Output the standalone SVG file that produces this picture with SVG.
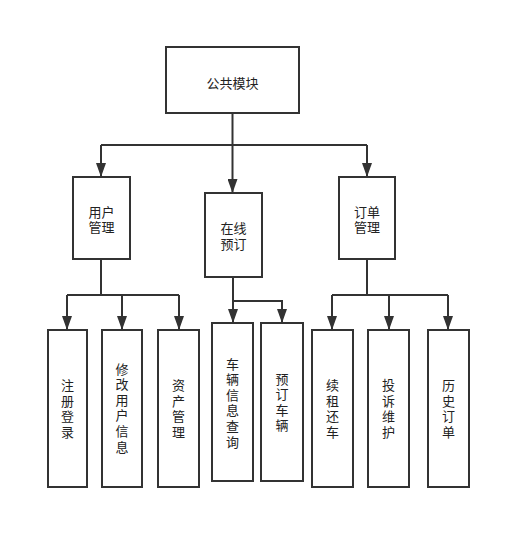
<svg xmlns="http://www.w3.org/2000/svg" width="530" height="548" viewBox="0 0 530 548" lang="zh-CN">
<style>
.box{fill:#fff;stroke:#333;stroke-width:2}
.ln{fill:none;stroke:#333;stroke-width:2}
.t{font-family:"Liberation Sans","Noto Sans CJK SC",sans-serif;font-size:13px;fill:#222;text-anchor:middle;dominant-baseline:central}
</style>
<defs>
<marker id="arr" viewBox="0 0 14 10" refX="14" refY="5" markerWidth="14" markerHeight="10" markerUnits="userSpaceOnUse" orient="auto">
<path d="M0,0 L14,5 L0,10 z" fill="#333"/>
</marker>
</defs>
<rect width="530" height="548" fill="#fff"/>
<g id="connectors">
<path class="ln" d="M232.5,113 V145"/>
<path class="ln" d="M101,145 H367"/>
<path class="ln" d="M101,145 V177" marker-end="url(#arr)"/>
<path class="ln" d="M232.5,145 V193" marker-end="url(#arr)"/>
<path class="ln" d="M367,145 V177" marker-end="url(#arr)"/>
<path class="ln" d="M101,259 V295"/>
<path class="ln" d="M67,295 H179"/>
<path class="ln" d="M67,295 V330" marker-end="url(#arr)"/>
<path class="ln" d="M122,295 V330" marker-end="url(#arr)"/>
<path class="ln" d="M179,295 V330" marker-end="url(#arr)"/>
<path class="ln" d="M233,277 V323" marker-end="url(#arr)"/>
<path class="ln" d="M233,301 H282 V323" marker-end="url(#arr)"/>
<path class="ln" d="M367,259 V295"/>
<path class="ln" d="M332,295 H448"/>
<path class="ln" d="M332,295 V330" marker-end="url(#arr)"/>
<path class="ln" d="M389,295 V330" marker-end="url(#arr)"/>
<path class="ln" d="M448,295 V330" marker-end="url(#arr)"/>
</g>
<g id="n-root"><rect class="box" x="166" y="47" width="133" height="66"/><text class="t" x="232.5" y="83">公共模块</text></g>
<g id="n-user"><rect class="box" x="73" y="177" width="57" height="82"/><text class="t"><tspan x="101.5" y="211.5">用户</tspan><tspan x="101.5" y="227.1">管理</tspan></text></g>
<g id="n-online"><rect class="box" x="205" y="193" width="57" height="84"/><text class="t"><tspan x="233.5" y="228">在线</tspan><tspan x="233.5" y="244">预订</tspan></text></g>
<g id="n-order"><rect class="box" x="339" y="177" width="56" height="82"/><text class="t"><tspan x="367" y="211.5">订单</tspan><tspan x="367" y="227.1">管理</tspan></text></g>
<g id="n-reg"><rect class="box" x="48" y="330" width="39" height="157"/><text class="t"><tspan x="67.5" y="385.1">注</tspan><tspan x="67.5" dy="15.6">册</tspan><tspan x="67.5" dy="15.6">登</tspan><tspan x="67.5" dy="15.6">录</tspan></text></g>
<g id="n-edit"><rect class="box" x="102" y="330" width="40" height="157"/><text class="t"><tspan x="122" y="368.5">修</tspan><tspan x="122" dy="15.6">改</tspan><tspan x="122" dy="15.6">用</tspan><tspan x="122" dy="15.6">户</tspan><tspan x="122" dy="15.6">信</tspan><tspan x="122" dy="15.6">息</tspan></text></g>
<g id="n-asset"><rect class="box" x="158" y="330" width="41" height="157"/><text class="t"><tspan x="178.5" y="385.1">资</tspan><tspan x="178.5" dy="15.6">产</tspan><tspan x="178.5" dy="15.6">管</tspan><tspan x="178.5" dy="15.6">理</tspan></text></g>
<g id="n-query"><rect class="box" x="212" y="323" width="41" height="158"/><text class="t"><tspan x="232.5" y="363.5">车</tspan><tspan x="232.5" dy="15.6">辆</tspan><tspan x="232.5" dy="15.6">信</tspan><tspan x="232.5" dy="15.6">息</tspan><tspan x="232.5" dy="15.6">查</tspan><tspan x="232.5" dy="15.6">询</tspan></text></g>
<g id="n-book"><rect class="box" x="261" y="323" width="42" height="158"/><text class="t"><tspan x="282" y="378.6">预</tspan><tspan x="282" dy="15.6">订</tspan><tspan x="282" dy="15.6">车</tspan><tspan x="282" dy="15.6">辆</tspan></text></g>
<g id="n-renew"><rect class="box" x="312" y="330" width="41" height="157"/><text class="t"><tspan x="332.5" y="385.1">续</tspan><tspan x="332.5" dy="15.6">租</tspan><tspan x="332.5" dy="15.6">还</tspan><tspan x="332.5" dy="15.6">车</tspan></text></g>
<g id="n-complaint"><rect class="box" x="368" y="330" width="41" height="157"/><text class="t"><tspan x="388.5" y="385.1">投</tspan><tspan x="388.5" dy="15.6">诉</tspan><tspan x="388.5" dy="15.6">维</tspan><tspan x="388.5" dy="15.6">护</tspan></text></g>
<g id="n-history"><rect class="box" x="428" y="330" width="41" height="157"/><text class="t"><tspan x="448.5" y="385.1">历</tspan><tspan x="448.5" dy="15.6">史</tspan><tspan x="448.5" dy="15.6">订</tspan><tspan x="448.5" dy="15.6">单</tspan></text></g>
</svg>
